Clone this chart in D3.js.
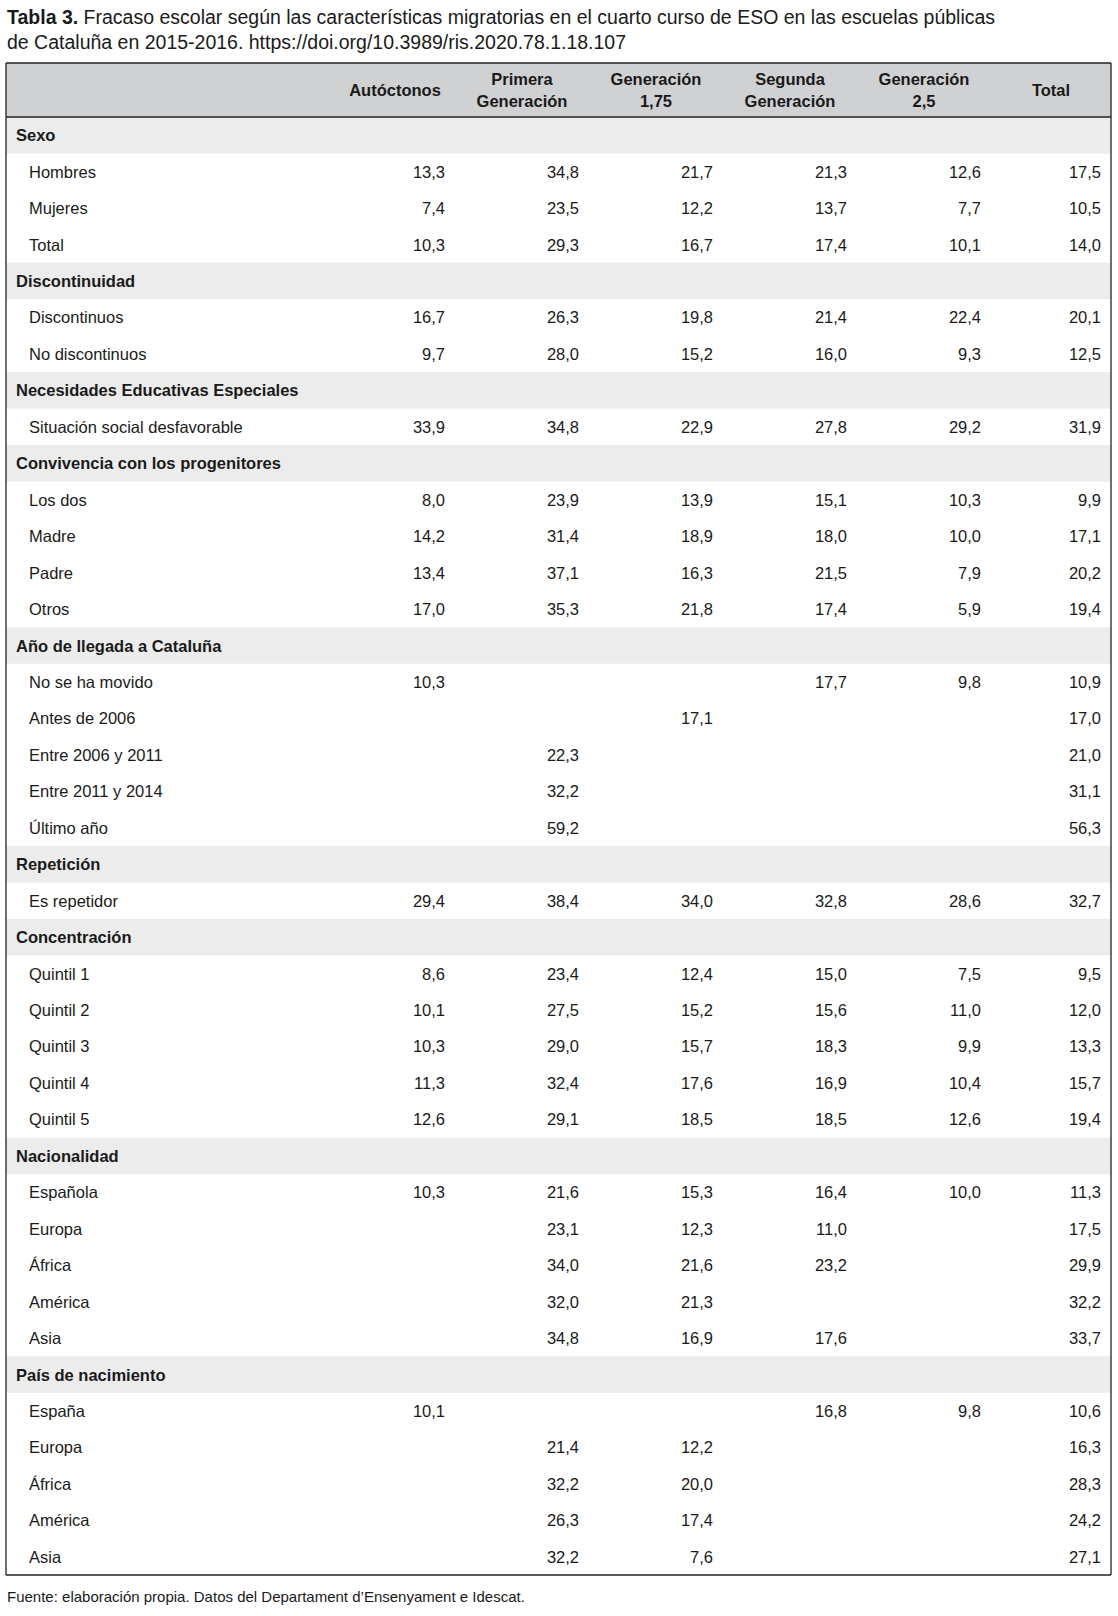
<!DOCTYPE html>
<html><head><meta charset="utf-8">
<script src="https://cdn.jsdelivr.net/npm/d3@7"></script>
<style>body{margin:0;background:#fff}</style></head>
<body><svg id="c" width="1118" height="1616"></svg>
<script>
const columns = ["Autóctonos","Primera|Generación","Generación|1,75","Segunda|Generación","Generación|2,5","Total"];
const sections = ["Sexo","Discontinuidad","Necesidades Educativas Especiales","Convivencia con los progenitores","Año de llegada a Cataluña","Repetición","Concentración","Nacionalidad","País de nacimiento"];
const rowLabels = [
 ["Hombres","Mujeres","Total"],
 ["Discontinuos","No discontinuos"],
 ["Situación social desfavorable"],
 ["Los dos","Madre","Padre","Otros"],
 ["No se ha movido","Antes de 2006","Entre 2006 y 2011","Entre 2011 y 2014","Último año"],
 ["Es repetidor"],
 ["Quintil 1","Quintil 2","Quintil 3","Quintil 4","Quintil 5"],
 ["Española","Europa","África","América","Asia"],
 ["España","Europa","África","América","Asia"]
];
const values = [
 [["13,3","34,8","21,7","21,3","12,6","17,5"],["7,4","23,5","12,2","13,7","7,7","10,5"],["10,3","29,3","16,7","17,4","10,1","14,0"]],
 [["16,7","26,3","19,8","21,4","22,4","20,1"],["9,7","28,0","15,2","16,0","9,3","12,5"]],
 [["33,9","34,8","22,9","27,8","29,2","31,9"]],
 [["8,0","23,9","13,9","15,1","10,3","9,9"],["14,2","31,4","18,9","18,0","10,0","17,1"],["13,4","37,1","16,3","21,5","7,9","20,2"],["17,0","35,3","21,8","17,4","5,9","19,4"]],
 [["10,3","","","17,7","9,8","10,9"],["","","17,1","","","17,0"],["","22,3","","","","21,0"],["","32,2","","","","31,1"],["","59,2","","","","56,3"]],
 [["29,4","38,4","34,0","32,8","28,6","32,7"]],
 [["8,6","23,4","12,4","15,0","7,5","9,5"],["10,1","27,5","15,2","15,6","11,0","12,0"],["10,3","29,0","15,7","18,3","9,9","13,3"],["11,3","32,4","17,6","16,9","10,4","15,7"],["12,6","29,1","18,5","18,5","12,6","19,4"]],
 [["10,3","21,6","15,3","16,4","10,0","11,3"],["","23,1","12,3","11,0","","17,5"],["","34,0","21,6","23,2","","29,9"],["","32,0","21,3","","","32,2"],["","34,8","16,9","17,6","","33,7"]],
 [["10,1","","","16,8","9,8","10,6"],["","21,4","12,2","","","16,3"],["","32,2","20,0","","","28,3"],["","26,3","17,4","","","24,2"],["","32,2","7,6","","","27,1"]]
];
const title1 = "Fracaso escolar según las características migratorias en el cuarto curso de ESO en las escuelas públicas";
const title2 = "de Cataluña en 2015-2016. https://doi.org/10.3989/ris.2020.78.1.18.107";
const source = "Fuente: elaboración propia. Datos del Departament d’Ensenyament e Idescat.";

const rows = [];
sections.forEach((s,i)=>{rows.push({type:"sec",label:s});rowLabels[i].forEach((l,j)=>rows.push({type:"row",label:l,vals:values[i][j]}));});

const svg = d3.select("#c");
const F = "'Liberation Sans', Arial, sans-serif", col = "#1a1a1a";
const L = 6, R = 1111, T0 = 63, hb = 117, bot = 1575;
const y = d3.scaleBand().domain(d3.range(rows.length)).range([hb, bot]);
const rightX = d3.scaleOrdinal().domain(d3.range(6)).range([445,579,713,847,981,1101]);
const centerX = d3.scaleOrdinal().domain(d3.range(6)).range([395,522,656,790,924,1051]);

const t = svg.append("text").attr("x",7).attr("y",24).attr("font-family",F).attr("font-size",19.5).attr("fill",col);
t.append("tspan").attr("font-weight","bold").text("Tabla 3.");
t.append("tspan").text(" "+title1);
svg.append("text").attr("x",7).attr("y",49).attr("font-family",F).attr("font-size",19.5).attr("fill",col).text(title2);

svg.append("rect").attr("x",L).attr("y",T0).attr("width",R-L).attr("height",hb-T0).attr("fill","#d0d1d3");
svg.selectAll("rect.sec").data(rows.map((r,i)=>({r,i})).filter(d=>d.r.type==="sec")).join("rect")
  .attr("x",L).attr("y",d=>y(d.i)).attr("width",R-L).attr("height",y.bandwidth()).attr("fill","#ececec");

columns.forEach((c,i)=>{
  const parts=c.split("|");
  const tx=svg.append("text").attr("font-family",F).attr("font-size",16.5).attr("font-weight","bold").attr("fill",col).attr("text-anchor","middle");
  if(parts.length===1) tx.attr("x",centerX(i)).attr("y",96).text(parts[0]);
  else parts.forEach((p,k)=>tx.append("tspan").attr("x",centerX(i)).attr("y",85+k*21.5).text(p));
});

const g = svg.selectAll("g.r").data(rows).join("g").attr("transform",(d,i)=>`translate(0,${y(i)+y.bandwidth()/2+6})`);
g.append("text").attr("x",d=>d.type==="sec"?16:29).attr("font-family",F).attr("font-size",16.5)
 .attr("font-weight",d=>d.type==="sec"?"bold":"normal").attr("fill",col).text(d=>d.label);
g.filter(d=>d.type==="row").selectAll("text.v").data(d=>d.vals).join("text").attr("class","v")
 .attr("x",(v,i)=>rightX(i)).attr("text-anchor","end").attr("font-family",F).attr("font-size",16.5).attr("fill",col).text(v=>v);

const line=(x1,y1,x2,y2,w)=>svg.append("line").attr("x1",x1).attr("y1",y1).attr("x2",x2).attr("y2",y2).attr("stroke","#222").attr("stroke-width",w||1.3);
line(L,T0,R,T0);line(L,hb,R,hb);line(L,bot,R,bot);line(L,T0,L,bot);line(R,T0,R,bot);

svg.append("text").attr("x",7).attr("y",1602).attr("font-family",F).attr("font-size",15).attr("fill",col).text(source);
</script></body></html>
